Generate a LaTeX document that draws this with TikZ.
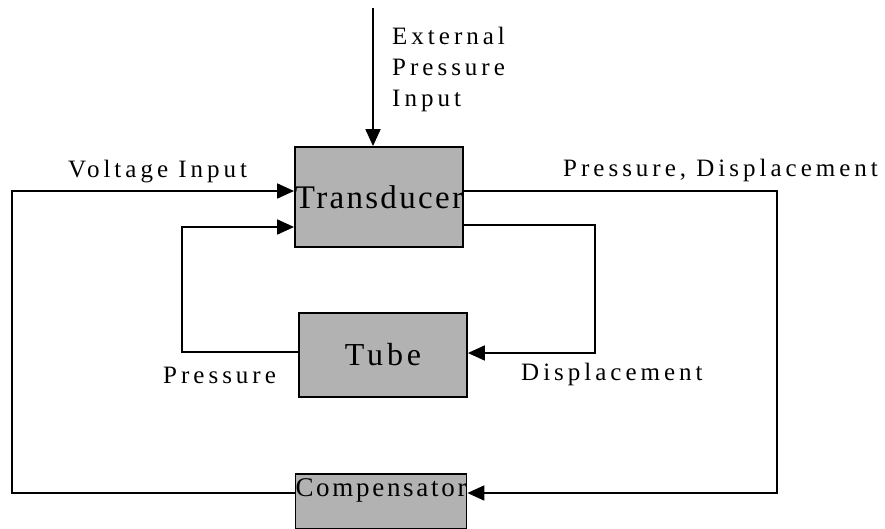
\documentclass[tikz,border=0pt]{standalone}
\usepackage{fontspec}
\setmainfont{Liberation Serif}
\usetikzlibrary{arrows.meta}
\definecolor{boxgray}{RGB}{178,178,178}
\begin{document}
\begin{tikzpicture}[x=1pt,y=-1pt,
  blk/.style={draw=black, line width=1.8pt, fill=boxgray, inner sep=0pt, minimum width=168pt},
  lbl/.style={font=\fontsize{25}{31}\selectfont\addfontfeature{LetterSpace=16}, inner sep=0pt, anchor=base west, align=left},
  conn/.style={line width=1.8pt},
  arr/.style={conn, -{Triangle[length=17pt,width=15pt]}}]
\useasboundingbox (0,0) rectangle (885,529);
% boxes
\node[blk, minimum height=100pt] (trans) at (379,197)
  {\fontsize{33}{33}\selectfont\addfontfeature{LetterSpace=7}Transducer};
\node[blk, minimum height=84pt] (tube) at (383,355)
  {\fontsize{32}{32}\selectfont\addfontfeature{LetterSpace=12}Tube};
\node[blk, minimum height=55pt] (comp) at (381,501.5)
  {\raisebox{5.5pt}[0pt][0pt]{\fontsize{27}{27}\selectfont\addfontfeature{LetterSpace=10}Compensator}};
% connectors
\coordinate (ext) at (373,8);
\draw[arr] (ext) -- (ext |- trans.north);
\coordinate (vl1) at (12,191);
\coordinate (vl2) at (12,493);
\draw[arr] (comp.west |- vl2) -- (vl2) -- (vl1) -- (trans.west |- vl1);
\coordinate (pl1) at (182,227);
\coordinate (pl2) at (182,352);
\draw[arr] (tube.west |- pl2) -- (pl2) -- (pl1) -- (trans.west |- pl1);
\coordinate (pr1) at (777,191);
\coordinate (pr2) at (777,493);
\draw[arr] (trans.east |- pr1) -- (pr1) -- (pr2) -- (comp.east |- pr2);
\coordinate (dr1) at (595,225);
\coordinate (dr2) at (595,353);
\draw[arr] (trans.east |- dr1) -- (dr1) -- (dr2) -- (tube.east |- dr2);
% labels
\node[lbl] (lext) at (392,107) {External\\Pressure\\Input};
\node[lbl] (lvolt) at (68,178) {Voltage Input};
\node[lbl] (lpd) at (563,177) {Pressure, Displacement};
\node[lbl] (lpr) at (163,383) {Pressure};
\node[lbl] (ldisp) at (521,380) {Displacement};
\end{tikzpicture}
\end{document}
